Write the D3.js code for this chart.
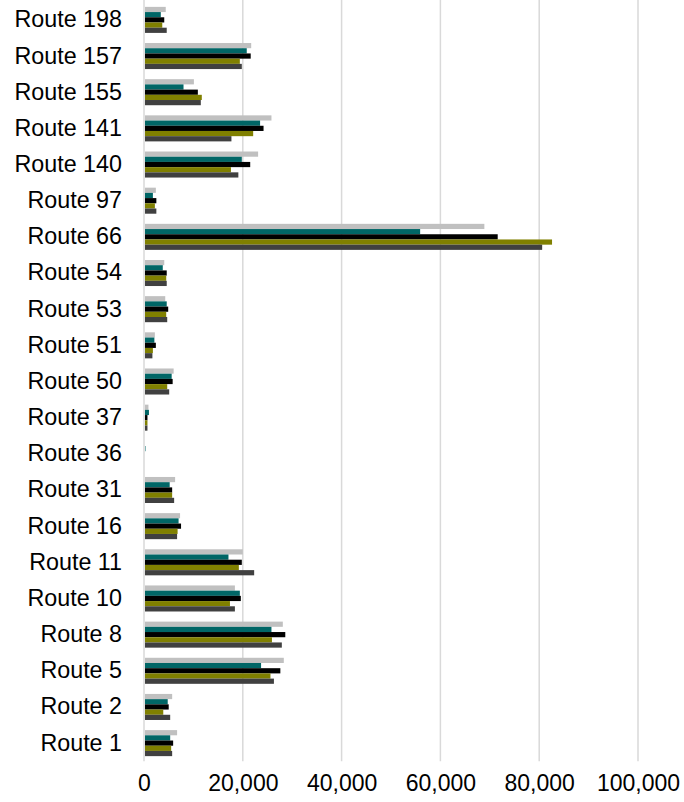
<!DOCTYPE html>
<html><head><meta charset="utf-8">
<script src="https://cdn.jsdelivr.net/npm/d3@7"></script>
<style>body{margin:0;background:#fff}svg{display:block}</style>
</head><body>
<svg id="c" width="684" height="802"></svg>
<script>
const categories = ["Route 198","Route 157","Route 155","Route 141","Route 140","Route 97","Route 66","Route 54","Route 53","Route 51","Route 50","Route 37","Route 36","Route 31","Route 16","Route 11","Route 10","Route 8","Route 5","Route 2","Route 1"];
const seriesNames = ["Series A","Series B","Series C","Series D","Series E"];
const seriesA = [4400,21700,10100,25800,23100,2400,68900,4100,4300,2200,6000,900,100,6300,7300,20000,18400,28100,28300,5700,6700];
const seriesB = [3400,20800,8000,23500,19800,1800,55900,3800,4600,2100,5600,1000,300,5200,7000,17100,19400,25800,23700,4800,5300];
const seriesC = [4100,21600,10900,24200,21500,2500,71600,4600,4900,2400,5800,700,200,5700,7500,19800,19600,28600,27600,5000,5900];
const seriesD = [3700,19400,11700,22100,17600,2200,82600,4500,4500,1800,4700,700,100,5700,6800,19200,17400,25900,25600,3900,5500];
const seriesE = [4600,19800,11500,17700,19100,2500,80600,4600,4700,1700,5100,700,200,6100,6700,22300,18400,27900,26300,5300,5700];
const seriesValues = [seriesA, seriesB, seriesC, seriesD, seriesE];
const colors = ["#c0c0c0","#006666","#000000","#808000","#404040"];
const tickValues = [0,20000,40000,60000,80000,100000];

(function(){
const svg = d3.select("#c");
const mLeft = 144, mRight = 638, mTop = 1.8, mBottom = 761.2;
const x = d3.scaleLinear().domain([0,100000]).range([mLeft,mRight]);
const y = d3.scaleBand().domain(categories).range([mTop,mBottom]).paddingInner(0.28).paddingOuter(0.14);
const y1 = d3.scaleBand().domain(seriesNames).range([0,y.bandwidth()]);

svg.append("g").selectAll("line").data(tickValues).join("line")
  .attr("x1",d=>x(d)).attr("x2",d=>x(d)).attr("y1",0).attr("y2",mBottom)
  .attr("stroke","#d9d9d9").attr("stroke-width",1.5);

const rows = categories.map((c,i)=>({c, vals: seriesValues.map((s,j)=>({name: seriesNames[j], v: s[i], col: colors[j]}))}));
const g = svg.append("g").selectAll("g").data(rows).join("g")
  .attr("transform",d=>`translate(0,${y(d.c)})`);
g.selectAll("rect").data(d=>d.vals).join("rect")
  .attr("x",x(0)+1).attr("y",d=>y1(d.name))
  .attr("width",d=>Math.max(0,x(d.v)-x(0)-1)).attr("height",y1.bandwidth())
  .attr("fill",d=>d.col);

const yAxis = d3.axisLeft(y).tickSize(0).tickPadding(0);
const ya = svg.append("g").attr("transform",`translate(122,0)`).call(yAxis);
ya.select(".domain").remove();
ya.selectAll("text").attr("font-family","Liberation Sans, Arial, sans-serif").attr("font-size",23.3).attr("fill","#000");

const xAxis = d3.axisBottom(x).tickValues(tickValues).tickSize(0).tickPadding(0).tickFormat(d3.format(","));
const xa = svg.append("g").attr("transform",`translate(0,775)`).call(xAxis);
xa.select(".domain").remove();
xa.selectAll("text").attr("font-family","Liberation Sans, Arial, sans-serif").attr("font-size",23).attr("fill","#000");
})();
</script>
</body></html>
